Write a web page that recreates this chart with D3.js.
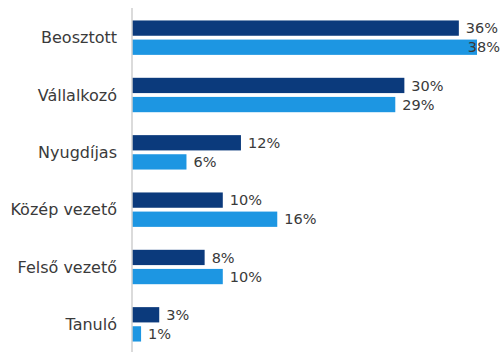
<!DOCTYPE html>
<html>
<head>
<meta charset="utf-8">
<script src="https://cdn.jsdelivr.net/npm/d3@7"></script>
<style>
  html, body { margin: 0; padding: 0; background: #fff; }
  svg { display: block; }
  text { font-family: "DejaVu Sans", "Noto Sans", sans-serif; }
</style>
</head>
<body>
<svg id="chart" width="500" height="356"></svg>
<script>
// Categories (top to bottom) and the two series shown per category
const categories = ["Beosztott", "Vállalkozó", "Nyugdíjas", "Közép vezető", "Felső vezető", "Tanuló"];
const seriesA = [36, 30, 12, 10, 8, 3];   // dark bars
const seriesB = [38, 29, 6, 16, 10, 1];   // light bars
const seriesNames = ["A", "B"];
const seriesColors = ["#0b3a7c", "#1d96e2"];

const W = 500, H = 356;
const axisX = 132;

const svg = d3.select("#chart");

const y = d3.scaleBand()
  .domain(categories)
  .range([9, 353])
  .paddingInner(0.4)
  .paddingOuter(0.2);

const ySub = d3.scaleBand()
  .domain(seriesNames)
  .range([0, y.bandwidth()])
  .paddingInner(0.2);

const x = d3.scaleLinear()
  .domain([0, 38])
  .range([axisX, 477]);

const rows = categories.map((c, i) => ({ cat: c, values: [seriesA[i], seriesB[i]] }));

const groups = svg.selectAll("g.row")
  .data(rows)
  .join("g")
  .attr("class", "row")
  .attr("transform", d => `translate(0,${y(d.cat)})`);

groups.selectAll("rect")
  .data(d => d.values.map((v, j) => ({ v, s: seriesNames[j], j })))
  .join("rect")
  .attr("x", x(0))
  .attr("y", d => ySub(d.s))
  .attr("width", d => x(d.v) - x(0))
  .attr("height", ySub.bandwidth())
  .attr("fill", d => seriesColors[d.j]);

// value labels, kept inside the drawing width
groups.selectAll("text.val")
  .data(d => d.values.map((v, j) => ({ v, s: seriesNames[j], j })))
  .join("text")
  .attr("class", "val")
  .attr("y", d => ySub(d.s) + ySub.bandwidth() / 2)
  .attr("dy", "0.36em")
  .attr("font-size", 14.5)
  .attr("fill", "#3a3a3a")
  .text(d => d.v + "%")
  .attr("x", function(d) {
    const w = this.getComputedTextLength();
    return Math.min(x(d.v) + 7, W - w);
  });

// category labels
svg.append("g")
  .selectAll("text")
  .data(categories)
  .join("text")
  .attr("x", 117)
  .attr("y", d => y(d) + y.bandwidth() / 2)
  .attr("dy", "0.36em")
  .attr("text-anchor", "end")
  .attr("font-size", 16)
  .attr("fill", "#3a3a3a")
  .text(d => d);

// vertical baseline
svg.append("line")
  .attr("x1", axisX).attr("x2", axisX)
  .attr("y1", 8).attr("y2", 352)
  .attr("stroke", "#cfcfcf")
  .attr("stroke-width", 1.5);
</script>
</body>
</html>
